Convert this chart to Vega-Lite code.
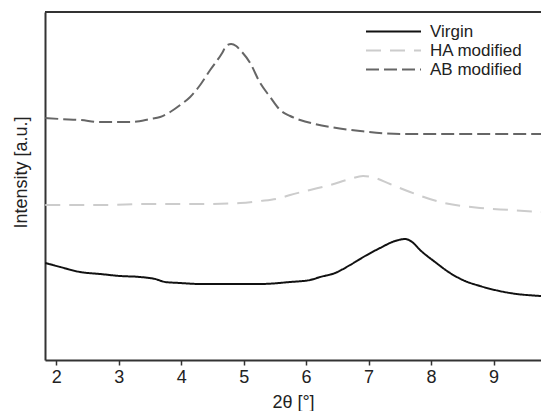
{
  "$schema": "https://vega.github.io/schema/vega-lite/v6.json",
  "width": 496,
  "height": 348,
  "autosize": {"type": "none"},
  "padding": {"left": 45, "top": 12, "right": 0, "bottom": 51},
  "background": "white",
  "config": {
    "view": {"stroke": null},
    "font": "Liberation Sans",
    "axis": {"domainColor": "#333", "domainWidth": 2, "tickColor": "#333", "labelColor": "#222", "titleColor": "#222", "labelFont": "Liberation Sans", "titleFont": "Liberation Sans", "titleFontWeight": "normal", "grid": false}
  },
  "data": {
    "values": [
      {"s": "AB modified", "x": 1.824, "y": 242},
      {"s": "AB modified", "x": 2.064, "y": 241},
      {"s": "AB modified", "x": 2.384, "y": 240},
      {"s": "AB modified", "x": 2.704, "y": 238},
      {"s": "AB modified", "x": 3.184, "y": 238},
      {"s": "AB modified", "x": 3.504, "y": 241},
      {"s": "AB modified", "x": 3.664, "y": 243},
      {"s": "AB modified", "x": 3.824, "y": 248},
      {"s": "AB modified", "x": 3.984, "y": 255},
      {"s": "AB modified", "x": 4.144, "y": 263},
      {"s": "AB modified", "x": 4.304, "y": 275},
      {"s": "AB modified", "x": 4.464, "y": 290},
      {"s": "AB modified", "x": 4.656, "y": 307},
      {"s": "AB modified", "x": 4.72, "y": 314},
      {"s": "AB modified", "x": 4.8, "y": 316},
      {"s": "AB modified", "x": 4.88, "y": 314},
      {"s": "AB modified", "x": 4.944, "y": 310},
      {"s": "AB modified", "x": 5.104, "y": 297},
      {"s": "AB modified", "x": 5.264, "y": 277},
      {"s": "AB modified", "x": 5.424, "y": 263},
      {"s": "AB modified", "x": 5.584, "y": 250},
      {"s": "AB modified", "x": 5.744, "y": 244},
      {"s": "AB modified", "x": 5.904, "y": 240},
      {"s": "AB modified", "x": 6.144, "y": 236},
      {"s": "AB modified", "x": 6.384, "y": 233},
      {"s": "AB modified", "x": 6.864, "y": 229},
      {"s": "AB modified", "x": 7.504, "y": 226},
      {"s": "AB modified", "x": 8.304, "y": 226},
      {"s": "AB modified", "x": 9.104, "y": 226},
      {"s": "AB modified", "x": 9.76, "y": 226},
      {"s": "HA modified", "x": 1.824, "y": 155},
      {"s": "HA modified", "x": 2.704, "y": 155},
      {"s": "HA modified", "x": 3.504, "y": 156},
      {"s": "HA modified", "x": 4.304, "y": 156},
      {"s": "HA modified", "x": 4.944, "y": 157},
      {"s": "HA modified", "x": 5.264, "y": 159},
      {"s": "HA modified", "x": 5.584, "y": 162},
      {"s": "HA modified", "x": 5.744, "y": 165},
      {"s": "HA modified", "x": 6.064, "y": 170},
      {"s": "HA modified", "x": 6.384, "y": 175},
      {"s": "HA modified", "x": 6.704, "y": 181},
      {"s": "HA modified", "x": 6.912, "y": 184},
      {"s": "HA modified", "x": 7.104, "y": 182},
      {"s": "HA modified", "x": 7.344, "y": 176},
      {"s": "HA modified", "x": 7.664, "y": 168},
      {"s": "HA modified", "x": 8.144, "y": 158},
      {"s": "HA modified", "x": 8.784, "y": 152},
      {"s": "HA modified", "x": 9.264, "y": 150},
      {"s": "HA modified", "x": 9.76, "y": 148},
      {"s": "Virgin", "x": 1.824, "y": 97},
      {"s": "Virgin", "x": 2.064, "y": 93},
      {"s": "Virgin", "x": 2.384, "y": 88},
      {"s": "Virgin", "x": 2.704, "y": 86},
      {"s": "Virgin", "x": 3.024, "y": 84},
      {"s": "Virgin", "x": 3.344, "y": 83},
      {"s": "Virgin", "x": 3.584, "y": 81},
      {"s": "Virgin", "x": 3.744, "y": 78},
      {"s": "Virgin", "x": 3.984, "y": 77},
      {"s": "Virgin", "x": 4.304, "y": 76},
      {"s": "Virgin", "x": 4.784, "y": 76},
      {"s": "Virgin", "x": 5.264, "y": 76},
      {"s": "Virgin", "x": 5.744, "y": 78},
      {"s": "Virgin", "x": 6.064, "y": 80},
      {"s": "Virgin", "x": 6.224, "y": 83},
      {"s": "Virgin", "x": 6.464, "y": 87},
      {"s": "Virgin", "x": 6.704, "y": 95},
      {"s": "Virgin", "x": 6.944, "y": 104},
      {"s": "Virgin", "x": 7.184, "y": 112},
      {"s": "Virgin", "x": 7.424, "y": 119},
      {"s": "Virgin", "x": 7.584, "y": 121},
      {"s": "Virgin", "x": 7.696, "y": 118},
      {"s": "Virgin", "x": 7.824, "y": 110},
      {"s": "Virgin", "x": 8.064, "y": 98},
      {"s": "Virgin", "x": 8.304, "y": 87},
      {"s": "Virgin", "x": 8.544, "y": 79},
      {"s": "Virgin", "x": 8.784, "y": 74},
      {"s": "Virgin", "x": 9.024, "y": 70},
      {"s": "Virgin", "x": 9.264, "y": 67},
      {"s": "Virgin", "x": 9.76, "y": 64}
    ]
  },
  "layer": [
    {
      "mark": {"type": "line", "strokeWidth": 2, "interpolate": "monotone", "clip": true},
      "encoding": {
        "x": {
          "field": "x", "type": "quantitative",
          "scale": {"domain": [1.82, 9.76], "nice": false, "zero": false},
          "axis": {"values": [2, 3, 4, 5, 6, 7, 8, 9], "title": "2θ [°]", "titleFontSize": 18, "labelFontSize": 18, "tickSize": 5, "tickWidth": 1.5, "labelPadding": 3, "titlePadding": 7}
        },
        "y": {
          "field": "y", "type": "quantitative",
          "scale": {"domain": [0, 348], "nice": false, "zero": false},
          "axis": {"ticks": false, "labels": false, "title": "Intensity [a.u.]", "titleFontSize": 18, "titlePadding": 15, "titleY": 160}
        },
        "color": {
          "field": "s", "type": "nominal",
          "scale": {"domain": ["Virgin", "HA modified", "AB modified"], "range": ["#111111", "#cccccc", "#666666"]},
          "legend": {
            "title": null, "orient": "none", "legendX": 340, "legendY": 11,
            "symbolType": "M-5.5,0H5.5", "symbolSize": 100, "symbolStrokeWidth": 2,
            "labelFontSize": 17, "labelColor": "#222", "labelOffset": 28, "rowPadding": 1
          }
        },
        "strokeDash": {
          "field": "s", "type": "nominal",
          "scale": {"domain": ["Virgin", "HA modified", "AB modified"], "range": [[1, 0], [15, 9], [13, 5]]},
          "legend": null
        }
      }
    },
    {
      "mark": {"type": "rule", "color": "#333", "strokeWidth": 2},
      "encoding": {"y": {"datum": 348}}
    }
  ]
}
